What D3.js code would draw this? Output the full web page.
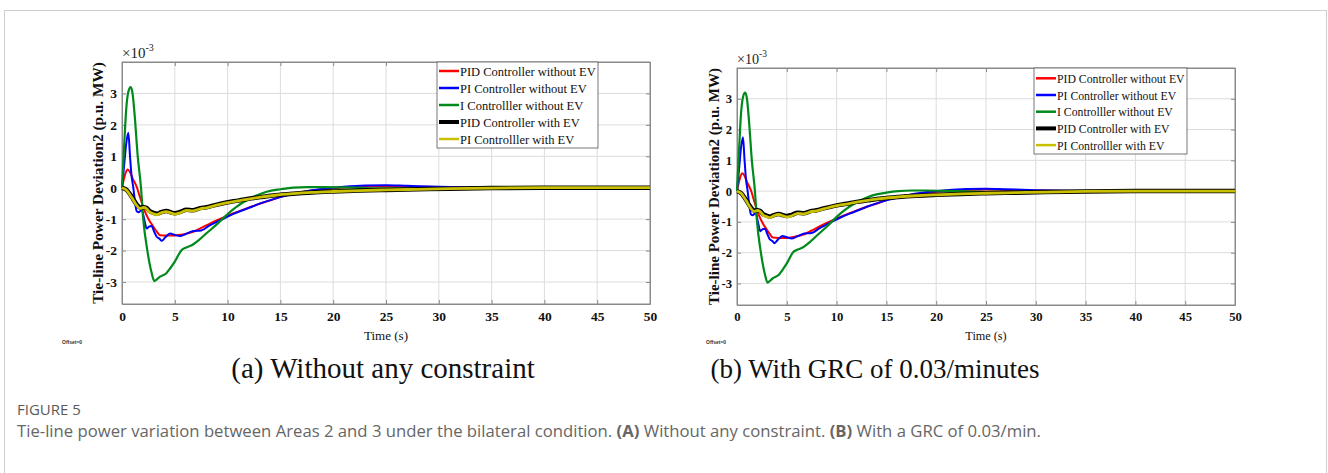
<!DOCTYPE html>
<html>
<head>
<meta charset="utf-8">
<script src="https://cdn.jsdelivr.net/npm/d3@7"></script>
<style>
  body { margin: 0; background: #fff; }
  svg { display: block; }
</style>
</head>
<body>
<div id="chart"></div>
<script>
// values (units x10^-3 p.u. MW)
var xTicks = [0, 5, 10, 15, 20, 25, 30, 35, 40, 45, 50]
var yTicks = [-3, -2, -1, 0, 1, 2, 3]
var seriesNames = ['PID Controller without EV', 'PI Controller without EV', 'I Controlller without EV', 'PID Controller with EV', 'PI Controlller with EV']
var seriesColors = ['#ff0000', '#0000ff', '#008a1c', '#000000', '#c8c000']

var tRed = [0, 0.2, 0.4, 0.55, 0.75, 1.0, 1.39, 1.8, 2.18, 2.6, 2.97, 3.3, 3.6, 4.2, 5.0, 5.5, 6.1, 6.75, 7.5, 8.33, 9.4, 10.5, 11.8, 13.1, 14.0, 15, 16.5, 18, 19.4, 21, 23, 25, 27, 30, 35, 40, 50]
var vRed = [0, 0.3, 0.52, 0.58, 0.5, 0.3, 0.03, -0.4, -0.77, -1.05, -1.24, -1.4, -1.51, -1.52, -1.52, -1.5, -1.46, -1.4, -1.28, -1.14, -0.98, -0.82, -0.66, -0.5, -0.41, -0.29, -0.17, -0.09, -0.04, 0.01, 0.04, 0.05, 0.04, 0.02, 0, 0, 0]

var tBlue = [0, 0.2, 0.4, 0.6, 0.76, 0.9, 1.07, 1.25, 1.39, 1.6, 1.86, 2.1, 2.34, 2.55, 2.8, 3.05, 3.28, 3.55, 3.76, 4.1, 4.55, 5.0, 5.5, 6.0, 6.75, 7.5, 8.3, 9.4, 10.5, 11.8, 13.1, 15, 16.5, 18, 19.4, 21, 23, 25, 27, 30, 33, 37, 40, 50]
var vBlue = [0, 0.7, 1.4, 1.75, 1.0, 0.4, 0.0, -0.5, -0.75, -0.78, -0.7, -1.0, -1.3, -1.24, -1.22, -1.4, -1.56, -1.62, -1.69, -1.58, -1.46, -1.5, -1.54, -1.48, -1.38, -1.36, -1.2, -1.02, -0.84, -0.67, -0.5, -0.3, -0.18, -0.08, -0.02, 0.03, 0.07, 0.08, 0.06, 0.03, 0.01, 0, 0, 0]

var tGreen = [0, 0.2, 0.4, 0.6, 0.82, 1.0, 1.2, 1.49, 1.8, 2.0, 2.4, 2.8, 3.06, 3.6, 4.2, 4.55, 5.0, 5.65, 6.1, 6.6, 7.3, 8.0, 9.0, 9.9, 10.8, 11.8, 12.8, 13.7, 15.0, 16.2, 17.5, 19, 21, 23, 25, 28, 32, 36, 40, 45, 50]
var vGreen = [0, 1.3, 2.5, 3.05, 3.2, 3.0, 2.3, 1.0, 0.0, -0.95, -2.0, -2.7, -2.97, -2.83, -2.72, -2.57, -2.35, -1.98, -1.9, -1.83, -1.66, -1.45, -1.16, -0.87, -0.62, -0.4, -0.24, -0.13, -0.05, 0.0, 0.02, 0.02, 0.01, -0.01, -0.02, -0.02, -0.01, 0, 0, 0, 0]

var tEV = [0, 0.44, 0.9, 1.39, 1.7, 2.02, 2.3, 2.6, 3.0, 3.3, 3.7, 4.2, 4.6, 5.0, 5.5, 6.1, 6.7, 7.4, 8.0, 8.7, 9.9, 11.0, 12.0, 13.1, 14.5, 16.2, 18, 20, 22.5, 25, 28, 31, 35, 40, 45, 50]
var vBlack = [0, -0.07, -0.28, -0.53, -0.63, -0.62, -0.64, -0.74, -0.8, -0.83, -0.78, -0.74, -0.78, -0.81, -0.77, -0.7, -0.72, -0.65, -0.62, -0.56, -0.47, -0.41, -0.35, -0.3, -0.24, -0.19, -0.15, -0.12, -0.09, -0.07, -0.05, -0.03, -0.01, 0, 0, 0]
var vYellow = [0, -0.08, -0.3, -0.56, -0.66, -0.63, -0.66, -0.77, -0.83, -0.86, -0.8, -0.76, -0.8, -0.84, -0.8, -0.72, -0.74, -0.67, -0.64, -0.58, -0.48, -0.42, -0.36, -0.3, -0.24, -0.19, -0.15, -0.12, -0.09, -0.07, -0.05, -0.03, -0.01, 0, 0, 0]

var seriesT = [tRed, tBlue, tGreen, tEV, tEV]
var seriesV = [vRed, vBlue, vGreen, vBlack, vYellow]
var seriesWidth = [2, 2, 2.2, 4.5, 2.8]

var W = 1328, H = 473
var svg = d3.select('#chart').append('svg').attr('width', W).attr('height', H)

// outer light frame
svg.append('rect').attr('x', 4.5).attr('y', 10.5).attr('width', 1322).attr('height', 500)
	.attr('fill', 'none').attr('stroke', '#cfcfcf').attr('stroke-width', 1)

var panels = [
	{left: 122, top: 62, right: 650, bottom: 304, fs: 1, ylabSize: 15.3, ylabX: 103, offX: 62,
		label: '(a) Without any constraint', labelX: 383, labelSize: 29,
		legend: {x: 437, y: 62, w: 161, h: 86, row: 17, first: 71, size: 12.5}},
	{left: 737, top: 68, right: 1235, bottom: 305, fs: 0.94, ylabSize: 15, ylabX: 719, offX: 706,
		label: '(b) With GRC of 0.03/minutes', labelX: 875, labelSize: 27,
		legend: {x: 1034, y: 68, w: 153, h: 86, row: 16.7, first: 78.3, size: 11.75}}
]

var fmt = function(d) { return String(d) }

var drawPanel = function (p) {
	var g = svg.append('g')
	var x = d3.scaleLinear().domain([0, 50]).range([p.left, p.right])
	var y = d3.scaleLinear().domain([-3.7, 4]).range([p.bottom, p.top])

	// grid
	g.selectAll('.gx').data(xTicks.slice(1, -1)).enter().append('line')
		.attr('x1', function(d) { return x(d) }).attr('x2', function(d) { return x(d) })
		.attr('y1', p.top).attr('y2', p.bottom).attr('stroke', '#dcdcdc').attr('stroke-width', 1)
	g.selectAll('.gy').data(yTicks).enter().append('line')
		.attr('y1', function(d) { return y(d) }).attr('y2', function(d) { return y(d) })
		.attr('x1', p.left).attr('x2', p.right).attr('stroke', '#dcdcdc').attr('stroke-width', 1)

	// axes (MATLAB style, ticks inside)
	var ax = d3.axisBottom(x).tickValues(xTicks).tickFormat(fmt).tickSizeInner(-4).tickSizeOuter(0).tickPadding(7)
	var ay = d3.axisLeft(y).tickValues(yTicks).tickFormat(fmt).tickSizeInner(-4).tickSizeOuter(0).tickPadding(5)
	g.append('g').attr('transform', 'translate(0,' + p.bottom + ')').call(ax)
	g.append('g').attr('transform', 'translate(' + p.left + ',0)').call(ay)
	g.append('g').attr('transform', 'translate(0,' + p.top + ')').call(d3.axisTop(x).tickValues(xTicks).tickSizeInner(-4).tickSizeOuter(0).tickFormat(''))
	g.append('g').attr('transform', 'translate(' + p.right + ',0)').call(d3.axisRight(y).tickValues(yTicks).tickSizeInner(-4).tickSizeOuter(0).tickFormat(''))
	g.selectAll('.domain').attr('stroke', '#8a8a8a')
	g.selectAll('.tick line').attr('stroke', '#8a8a8a')
	g.selectAll('.tick text').attr('font-family', 'Liberation Serif, serif').attr('font-weight', 'bold')
		.attr('font-size', (13.5 * p.fs) + 'px').attr('fill', '#111')
	g.append('rect').attr('x', p.left).attr('y', p.top).attr('width', p.right - p.left).attr('height', p.bottom - p.top)
		.attr('fill', 'none').attr('stroke', '#8a8a8a')

	// lines
	var line = d3.line().x(function(d) { return x(d[0]) }).y(function(d) { return y(d[1]) }).curve(d3.curveMonotoneX)
	for (var i = 0; i < seriesNames.length; i++) {
		var pts = seriesT[i].map(function(t, j) { return [t, seriesV[i][j]] })
		g.append('path').attr('d', line(pts)).attr('fill', 'none')
			.attr('stroke', seriesColors[i]).attr('stroke-width', seriesWidth[i]).attr('stroke-linejoin', 'round')
	}

	// legend
	var L = p.legend
	var lg = g.append('g')
	lg.append('rect').attr('x', L.x).attr('y', L.y).attr('width', L.w).attr('height', L.h)
		.attr('fill', '#fff').attr('stroke', '#555').attr('stroke-width', 0.8)
	seriesNames.forEach(function(name, i) {
		var yy = L.first + i * L.row
		lg.append('line').attr('x1', L.x + 2).attr('x2', L.x + 22).attr('y1', yy).attr('y2', yy)
			.attr('stroke', seriesColors[i]).attr('stroke-width', i == 3 ? 4 : 2.5)
		lg.append('text').attr('x', L.x + 23).attr('y', yy + 4.5).text(name)
			.attr('font-family', 'Liberation Serif, serif').attr('font-size', L.size + 'px').attr('fill', '#111')
	})

	// exponent
	var ex = g.append('text').attr('x', p.left).attr('y', p.top - 4)
		.attr('font-family', 'Liberation Serif, serif').attr('font-size', (15 * p.fs) + 'px').attr('fill', '#222')
	ex.append('tspan').text('\u00d710')
	ex.append('tspan').attr('dy', -7).attr('font-size', (10 * p.fs) + 'px').text('-3')

	// y label
	g.append('text').attr('transform', 'translate(' + p.ylabX + ',' + ((p.top + p.bottom) / 2) + ') rotate(-90)')
		.attr('text-anchor', 'middle').attr('font-family', 'Liberation Serif, serif').attr('font-weight', 'bold')
		.attr('font-size', p.ylabSize + 'px').attr('fill', '#111').text('Tie-line Power Deviation2 (p.u. MW)')

	// x label
	g.append('text').attr('x', (p.left + p.right) / 2).attr('y', 340).attr('text-anchor', 'middle')
		.attr('font-family', 'Liberation Serif, serif').attr('font-size', (13 * p.fs) + 'px').attr('fill', '#111').text('Time (s)')

	g.append('text').attr('x', p.offX).attr('y', 344).attr('font-family', 'Liberation Sans, sans-serif')
		.attr('font-weight', 'bold').attr('font-size', '5px').attr('fill', '#333').text('Offset=0')

	// panel caption
	g.append('text').attr('x', p.labelX).attr('y', 378).attr('text-anchor', 'middle')
		.attr('font-family', 'Liberation Serif, serif').attr('font-size', p.labelSize + 'px').attr('fill', '#111').text(p.label)
}

panels.forEach(drawPanel)

// figure caption
svg.append('text').attr('x', 17).attr('y', 415).attr('font-family', 'Open Sans, sans-serif')
	.attr('font-size', '15px').attr('fill', '#5a5a5a').text('FIGURE 5')
var cap = svg.append('text').attr('x', 17).attr('y', 437).attr('font-family', 'Open Sans, sans-serif')
	.attr('font-size', '16.7px').attr('fill', '#666')
cap.append('tspan').text('Tie-line power variation between Areas 2 and 3 under the bilateral condition. ')
cap.append('tspan').attr('font-weight', 'bold').text('(A)')
cap.append('tspan').text(' Without any constraint. ')
cap.append('tspan').attr('font-weight', 'bold').text('(B)')
cap.append('tspan').text(' With a GRC of 0.03/min.')
</script>
</body>
</html>
